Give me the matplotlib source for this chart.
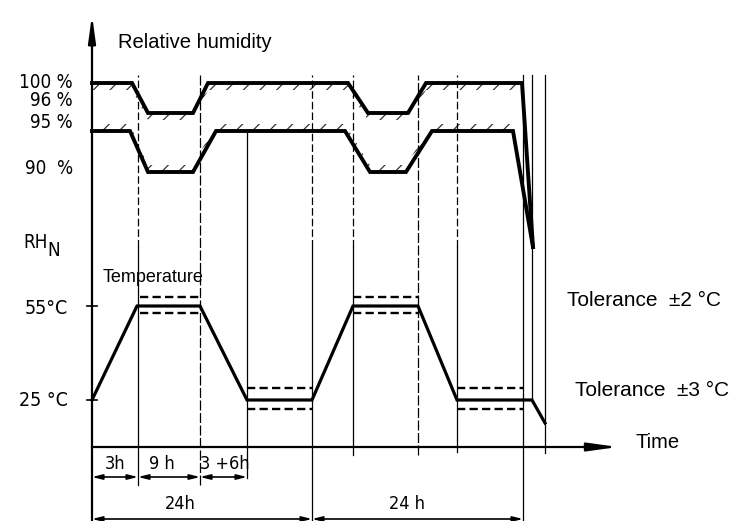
import matplotlib
matplotlib.use('Agg')
import matplotlib.pyplot as plt

# ---- schematic data (diagram units: origin at axis crossing, y upward) ----
# relative humidity band: upper limit curve and lower limit curve
rh_top_x = [0, 40, 56, 101, 116, 256, 276, 316, 334, 430, 441]
rh_top_y = [364, 364, 334, 334, 364, 364, 334, 334, 364, 364, 200]
rh_bot_x = [0, 38, 56, 101, 124, 253, 278, 314, 340, 421, 441]
rh_bot_y = [316, 316, 275, 275, 316, 316, 275, 275, 316, 316, 200]

# temperature curve
temp_x = [0, 45, 108, 155, 220, 261, 326, 365, 440, 453]
temp_y = [47, 141, 141, 47, 47, 141, 141, 47, 47, 24]

# tolerance bands (dashed)
tol_hi_spans = [(48, 108), (261, 326)]
tol_hi_levels = [150, 134]
tol_lo_spans = [(155, 220), (365, 431)]
tol_lo_levels = [59, 38]

# axis labels
rh_labels = ['100 %', '96 %', '95 %', '90  %']
rh_label_y = [364, 346, 324, 278]
temp_labels = ['55°C', '25 °C']
temp_label_y = [139, 47]
temp_tick_y = [141, 47]

# vertical phase lines
guides_x = [46, 108, 155, 220, 261, 326, 365, 431, 440, 453]
guides_top = [372, 372, 316, 372, 372, 372, 372, 372, 372, 372]
guides_bot = [-38, -38, -31, -74, -8, -8, -5, -74, 47, -6]
guides_style = ['split', 'dash', 'solid', 'split', 'split', 'dash', 'split',
                'solid', 'solid', 'solid']

# duration brackets
row1_edges = [0, 46, 108, 155]
row1_labels = ['3h', '9 h', '3 +6h']
row1_label_x = [23, 70, 133]
row2_edges = [0, 220, 431]
row2_labels = ['24h', '24 h']
row2_label_x = [88, 315]

# ---------------------------------------------------------------------------
fig = plt.figure(figsize=(7.33, 5.21), dpi=100)
ax = fig.add_axes([0, 0, 1, 1])
ax.set_xlim(-92, 641)
ax.set_ylim(-74, 447)
ax.axis('off')

plt.rcParams['hatch.linewidth'] = 0.9
plt.rcParams['hatch.color'] = '0.2'

eng = dict(family='DejaVu Sans', fontstretch='condensed', color='black')
sans = dict(family='Liberation Sans', color='black')

# guides
for gx, gt, gb, st in zip(guides_x, guides_top, guides_bot, guides_style):
    if st == 'solid':
        ax.plot([gx, gx], [gb, gt], color='black', lw=0.9)
    elif st == 'dash':
        ax.plot([gx, gx], [gb, gt], color='black', lw=0.9, dashes=(8, 2))
    else:
        ax.plot([gx, gx], [200, gt], color='black', lw=0.9, dashes=(6, 2.5))
        ax.plot([gx, gx], [gb, 200], color='black', lw=0.9)

# humidity band hatching along inner side of the curves
ax.fill_between(rh_top_x, [y - 7 for y in rh_top_y], rh_top_y,
                facecolor='none', edgecolor='0.2', lw=0, hatch='//')
ax.fill_between(rh_bot_x, rh_bot_y, [y + 7 for y in rh_bot_y],
                facecolor='none', edgecolor='0.2', lw=0, hatch='//')

ax.plot(rh_top_x, rh_top_y, color='black', lw=2.8, solid_joinstyle='miter')
ax.plot(rh_bot_x, rh_bot_y, color='black', lw=2.8, solid_joinstyle='miter')

# temperature
ax.plot(temp_x, temp_y, color='black', lw=2.3, solid_joinstyle='miter')
for (a, b) in tol_hi_spans:
    for lv in tol_hi_levels:
        ax.plot([a, b], [lv, lv], color='black', lw=1.7, dashes=(3.5, 1.8))
for (a, b) in tol_lo_spans:
    for lv in tol_lo_levels:
        ax.plot([a, b], [lv, lv], color='black', lw=1.7, dashes=(3.5, 1.8))

# axes
ax.plot([0, 0], [-74, 405], color='black', lw=1.6)
ax.annotate('', xy=(0, 432), xytext=(0, 400),
            arrowprops=dict(arrowstyle='-|>,head_length=1.6,head_width=0.22',
                            color='black', lw=1.6, shrinkA=0, shrinkB=0))
ax.plot([0, 505], [0, 0], color='black', lw=1.6)
ax.annotate('', xy=(526, 0), xytext=(500, 0),
            arrowprops=dict(arrowstyle='-|>,head_length=1.8,head_width=0.25',
                            color='black', lw=1.6, shrinkA=0, shrinkB=0))
for ty in temp_tick_y:
    ax.plot([-5, 5], [ty, ty], color='black', lw=1.2)

# labels
for lab, ly in zip(rh_labels, rh_label_y):
    ax.text(-19, ly, lab, ha='right', va='center', fontsize=13.5, **eng)
for lab, ly in zip(temp_labels, temp_label_y):
    ax.text(-24, ly, lab, ha='right', va='center', fontsize=14, **eng)
ax.text(-69, 205, 'RH', ha='left', va='center', fontsize=13.5, **eng)
ax.text(-45, 197, 'N', ha='left', va='center', fontsize=13.5, **eng)

ax.text(26, 404, 'Relative humidity', ha='left', va='center', fontsize=14.5, **sans)
ax.text(11, 170, 'Temperature', ha='left', va='center', fontsize=13, **sans)
ax.text(475, 147, 'Tolerance  \u00b12 \u00b0C', ha='left', va='center', fontsize=15, **sans)
ax.text(483, 57, 'Tolerance  \u00b13 \u00b0C', ha='left', va='center', fontsize=15, **sans)
ax.text(543, 4, 'Time', ha='left', va='center', fontsize=14.5, **sans)

# duration brackets
def bracket(edges, labels, label_x, y, ty):
    for a, b in zip(edges[:-1], edges[1:]):
        ax.annotate('', xy=(b, y), xytext=(a, y),
                    arrowprops=dict(arrowstyle='<|-|>,head_length=0.6,head_width=0.15',
                                    color='black', lw=1.2, shrinkA=0, shrinkB=0))
    for lx, lab in zip(label_x, labels):
        ax.text(lx, ty, lab, ha='center', va='center', fontsize=13, **eng)

bracket(row1_edges, row1_labels, row1_label_x, -30, -17)
bracket(row2_edges, row2_labels, row2_label_x, -72, -57)

fig.savefig('out.png', dpi=100)
